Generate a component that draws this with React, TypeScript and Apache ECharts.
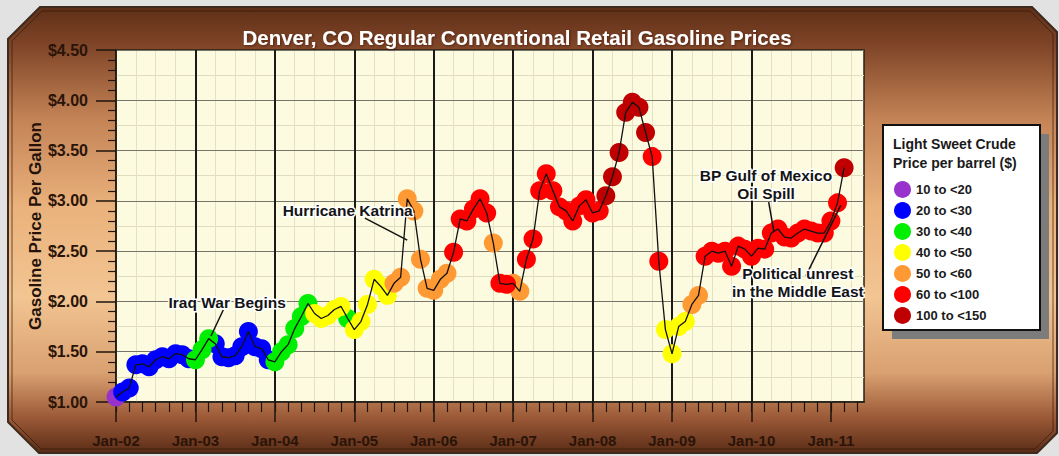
import React, { useEffect, useRef } from "react";
import * as echarts from "echarts";

const FONT = '"Liberation Sans", Arial, Helvetica, sans-serif';

// x = months after Jan 2002
const tickLabels = ["Jan-02", "Jan-03", "Jan-04", "Jan-05", "Jan-06", "Jan-07", "Jan-08", "Jan-09", "Jan-10", "Jan-11"];
const yearTickValues = [0, 12, 24, 36, 48, 60, 72, 84, 96, 108];
const twoMonthTickValues = [
  0, 2, 4, 6, 8, 10, 12, 14, 16, 18, 20, 22, 24, 26, 28, 30, 32, 34, 36, 38, 40, 42, 44, 46, 48, 50, 52, 54, 56,
  58, 60, 62, 64, 66, 68, 70, 72, 74, 76, 78, 80, 82, 84, 86, 88, 90, 92, 94, 96, 98, 100, 102, 104, 106, 108, 110, 112,
];

// Monthly retail regular gasoline price ($/gal), Jan 2002 .. Mar 2011
const prices = [
  1.05, 1.10, 1.14, 1.37, 1.38, 1.35, 1.42, 1.45, 1.43, 1.48, 1.47, 1.43,
  1.42, 1.52, 1.63, 1.58, 1.45, 1.44, 1.46, 1.55, 1.70, 1.55, 1.53, 1.42,
  1.40, 1.50, 1.57, 1.73, 1.85, 1.98, 1.88, 1.83, 1.86, 1.92, 1.95, 1.83,
  1.72, 1.80, 1.97, 2.22, 2.15, 2.06, 2.18, 2.24, 3.02, 2.90, 2.42, 2.13,
  2.11, 2.22, 2.28, 2.49, 2.82, 2.80, 2.92, 3.02, 2.88, 2.58, 2.18, 2.17,
  2.18, 2.10, 2.42, 2.62, 3.10, 3.27, 3.10, 2.94, 2.90, 2.80, 2.95, 3.01,
  2.88, 2.90, 3.05, 3.24, 3.48, 3.88, 3.98, 3.93, 3.68, 3.44, 2.40, 1.72,
  1.48, 1.75, 1.80, 1.97, 2.06, 2.45, 2.50, 2.48, 2.50, 2.35, 2.55, 2.52,
  2.45, 2.53, 2.52, 2.68, 2.72, 2.64, 2.63, 2.68, 2.72, 2.70, 2.68, 2.68,
  2.80, 2.98, 3.33,
];

// Light sweet crude price bucket for each month (index into bucketNames)
const crudeBucket = [
  0, 1, 1, 1, 1, 1, 1, 1, 1, 1, 1, 1,
  2, 2, 2, 1, 1, 1, 1, 1, 1, 1, 1, 1,
  2, 2, 2, 2, 2, 2, 3, 3, 3, 3, 3, 2,
  3, 3, 3, 3, 3, 3, 4, 4, 4, 4, 4, 4,
  4, 4, 4, 5, 5, 5, 5, 5, 5, 4, 5, 5,
  4, 4, 5, 5, 5, 5, 5, 5, 5, 5, 5, 5,
  5, 5, 6, 6, 6, 6, 6, 6, 6, 5, 5, 3,
  3, 3, 3, 4, 4, 5, 5, 5, 5, 5, 5, 5,
  5, 5, 5, 5, 5, 5, 5, 5, 5, 5, 5, 5,
  5, 5, 6,
];

const bucketNames = ["10 to <20", "20 to <30", "30 to <40", "40 to <50", "50 to <60", "60 to <100", "100 to <150"];
const bucketColors = ["#9932cc", "#0000ff", "#00ee00", "#ffff00", "#ff9933", "#ff0000", "#c00000"];

// Annotations: text anchor (month, price) and leader line (from, to)
const annotationTexts = ["Iraq War Begins", "Hurricane Katrina", "BP Gulf of Mexico\nOil Spill", "Political unrest\nin the Middle East"];
const annotationAnchors = [[16.8, 1.994], [35.0, 2.909], [98.2, 3.167], [103.0, 2.193]];
const leaderLines = [
  [[16.2, 1.915], [14.35, 1.656]],
  [[37.6, 2.829], [44.0, 2.61]],
  [[98.6, 2.988], [99.4, 2.69]],
  [[104.2, 2.252], [109.5, 2.958]],
];

const DARK = "#1e140c";

export default function App() {
  const ref = useRef<HTMLDivElement>(null);

  useEffect(() => {
    document.body.style.margin = "0";
    if (!ref.current) return;
    const chart = echarts.init(ref.current, undefined, { renderer: "svg" });

    const points = prices.map((p, i) => [i, p]);

    const scatterSeries = bucketNames.map((name, b) => ({
      name,
      type: "scatter",
      symbol: "circle",
      symbolSize: 19,
      silent: true,
      z: 2,
      itemStyle: { color: bucketColors[b], opacity: 1 },
      data: points.filter((_, i) => crudeBucket[i] === b),
    }));

    const axisText = { fontSize: 15, fontWeight: "bold", color: "#2a1408", fontFamily: FONT };

    const frameGradient = new echarts.graphic.LinearGradient(0, 0, 0, 1, [
      { offset: 0, color: "#5e2f17" },
      { offset: 0.08, color: "#7d4326" },
      { offset: 0.25, color: "#c48356" },
      { offset: 0.45, color: "#eab27c" },
      { offset: 0.65, color: "#f2c592" },
      { offset: 0.82, color: "#d9a070" },
      { offset: 0.92, color: "#9c5a38" },
      { offset: 1, color: "#5a2c16" },
    ]);

    const option: any = {
      animation: false,
      backgroundColor: "#e2e2e2",
      textStyle: { fontFamily: FONT },
      title: {
        text: "Denver, CO Regular Conventional Retail Gasoline Prices",
        left: 517,
        top: 27,
        textAlign: "center",
        padding: 0,
        textStyle: {
          color: "#ffffff",
          fontSize: 20.5,
          fontWeight: "bold",
          fontFamily: FONT,
          textShadowColor: "rgba(60,20,0,0.6)",
          textShadowBlur: 2,
          textShadowOffsetX: 1,
          textShadowOffsetY: 1,
        },
      },
      graphic: [
        {
          type: "polygon",
          z: -5,
          silent: true,
          shape: {
            points: [[40, 7], [1032, 7], [1057, 32], [1057, 433], [1037, 453], [39, 453], [8, 422], [8, 39]],
          },
          style: { fill: frameGradient, stroke: "#3e2a1e", lineWidth: 2 },
        },
        {
          type: "polygon",
          z: -4,
          silent: true,
          shape: {
            points: [[42, 11], [1030, 11], [1053, 34], [1053, 431], [1035, 449], [41, 449], [12, 420], [12, 41]],
          },
          style: { fill: "none", stroke: "rgba(50,25,10,0.7)", lineWidth: 1 },
        },
        {
          type: "rect",
          z: 1,
          silent: true,
          shape: { x: 892, y: 134, width: 157, height: 205 },
          style: { fill: "#7c7c7c" },
        },
        {
          type: "rect",
          z: 2,
          silent: true,
          shape: { x: 883, y: 125, width: 157, height: 205 },
          style: { fill: "#ffffff", stroke: "#111111", lineWidth: 2 },
        },
        {
          type: "text",
          z: 3,
          silent: true,
          x: 893,
          y: 134,
          style: {
            text: "Light Sweet Crude\nPrice per barrel ($)",
            fontSize: 14,
            fontWeight: "bold",
            fontFamily: FONT,
            fill: "#1a1a1a",
            lineHeight: 19,
            textAlign: "left",
            textVerticalAlign: "top",
          },
        },
      ],
      legend: {
        data: bucketNames,
        orient: "vertical",
        left: 894,
        top: 181,
        itemWidth: 17,
        itemHeight: 17,
        itemGap: 4,
        padding: 0,
        icon: "circle",
        selectedMode: false,
        z: 5,
        textStyle: { fontSize: 13, fontWeight: "bold", color: "#1a1a1a", fontFamily: FONT },
      },
      grid: {
        left: 116,
        right: 195,
        top: 50,
        bottom: 54,
        show: true,
        backgroundColor: "#fcfbe0",
        borderColor: "#2a2018",
        borderWidth: 1.5,
      },
      xAxis: [
        {
          type: "value",
          min: 0,
          max: 113,
          interval: 12,
          position: "bottom",
          z: 1,
          axisLine: { show: true, onZero: false, lineStyle: { color: DARK, width: 1.5 } },
          axisTick: { show: true, length: 20, inside: false, customValues: yearTickValues, lineStyle: { color: DARK, width: 1.5 } },
          axisLabel: {
            ...axisText,
            margin: 31,
            customValues: yearTickValues,
            formatter: (v: number) => (Math.round(v) % 12 === 0 ? tickLabels[Math.round(v) / 12] ?? "" : ""),
          },
          splitLine: { show: true, showMinLine: false, showMaxLine: false, lineStyle: { color: "#1a1a1a", width: 2 } },
        },
        {
          type: "value",
          min: 0,
          max: 113,
          interval: 2,
          position: "bottom",
          z: 1,
          axisLine: { show: false, onZero: false },
          axisTick: { show: true, length: 10, inside: false, customValues: twoMonthTickValues, lineStyle: { color: DARK, width: 1.2 } },
          axisLabel: { show: false },
          splitLine: { show: false },
        },
        {
          type: "value",
          min: 0,
          max: 113,
          interval: 3,
          position: "bottom",
          z: 0,
          axisLine: { show: false, onZero: false },
          axisTick: { show: false },
          axisLabel: { show: false },
          splitLine: { show: true, showMinLine: false, showMaxLine: false, lineStyle: { color: "#e3e0c4", width: 1 } },
        },
      ],
      yAxis: [
        {
          type: "value",
          min: 1,
          max: 4.5,
          interval: 0.5,
          position: "left",
          z: 1,
          name: "Gasoline Price Per Gallon",
          nameLocation: "middle",
          nameGap: 72,
          nameRotate: 90,
          nameMoveOverlap: false,
          nameTextStyle: { fontSize: 17, fontWeight: "bold", color: "#24120a", fontFamily: FONT },
          axisLine: { show: true, onZero: false, lineStyle: { color: DARK, width: 1.5 } },
          axisTick: { show: true, length: 20, inside: false, lineStyle: { color: DARK, width: 1.5 } },
          minorTick: { show: true, splitNumber: 5, length: 8, lineStyle: { color: DARK, width: 1.2 } },
          axisLabel: { ...axisText, fontSize: 16, margin: 28, formatter: (v: number) => "$" + v.toFixed(2) },
          splitLine: { show: true, lineStyle: { color: "#77756a", width: 1 } },
        },
        {
          type: "value",
          min: 1,
          max: 4.5,
          interval: 0.25,
          position: "left",
          z: 0,
          axisLine: { show: false, onZero: false },
          axisTick: { show: false },
          axisLabel: { show: false },
          splitLine: { show: true, lineStyle: { color: "#e0ddbe", width: 1 } },
        },
      ],
      series: [
        ...scatterSeries,
        {
          name: "price",
          type: "line",
          data: points,
          showSymbol: false,
          symbol: "none",
          silent: true,
          z: 3,
          lineStyle: { color: "#111111", width: 1.3 },
          markLine: {
            silent: true,
            symbol: ["none", "none"],
            label: { show: false },
            lineStyle: { color: "#111111", width: 1.5, type: "solid" },
            data: leaderLines.map(([a, b]) => [{ coord: a }, { coord: b }]),
          },
          markPoint: {
            silent: true,
            symbol: "rect",
            symbolSize: 1,
            itemStyle: { color: "rgba(0,0,0,0)" },
            label: {
              show: true,
              position: "inside",
              formatter: "{b}",
              fontSize: 15.5,
              fontWeight: "bold",
              fontFamily: FONT,
              color: "#141414",
              textBorderColor: "#ffffff",
              textBorderWidth: 3,
              lineHeight: 18,
              align: "center",
            },
            data: annotationTexts.map((t, i) => ({ name: t, coord: annotationAnchors[i] })),
          },
        },
      ],
    };

    chart.setOption(option);
    return () => chart.dispose();
  }, []);

  return <div ref={ref} style={{ position: "absolute", left: 0, top: 0, width: 1059, height: 456 }} />;
}
